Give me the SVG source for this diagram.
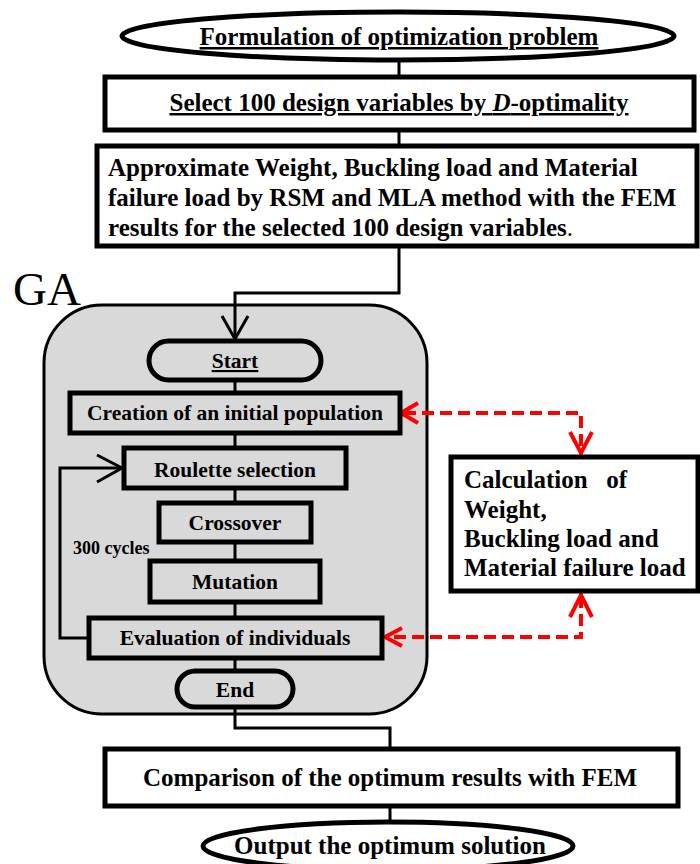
<svg xmlns="http://www.w3.org/2000/svg" width="700" height="864" viewBox="0 0 700 864">
<style>
text{font-family:"Liberation Serif","Times New Roman",serif;font-weight:bold;fill:#000}
.c{text-anchor:middle}
.u{text-decoration:underline}
.g{font-size:21.5px}
.box{fill:#fff;stroke:#000;stroke-width:5}
.gbox{fill:#d9d9d9;stroke:#000;stroke-width:5}
.ln{fill:none;stroke:#000;stroke-width:3}
.red{fill:none;stroke:#ff0000;stroke-width:4;stroke-dasharray:12 6}
.redh{fill:none;stroke:#ff0000;stroke-width:4}
</style>
<rect width="700" height="864" fill="#fff"/>
<g id="ga">
<rect x="44" y="305" width="383" height="409" rx="58" ry="58" fill="#d9d9d9" stroke="#000" stroke-width="3"/>
<text x="13" y="305" style="font-size:47px;font-weight:normal">GA</text>
</g>
<g id="connectors">
<path class="ln" d="M399 61V77M399 130V146M399 246V293H235V338"/>
<path class="ln" d="M222 316L235 339L248 316"/>
<path class="ln" d="M235 380V392M235 433V448M235 488V502M235 542V560M235 602V617M235 658V670M235 707V728H390V748M390 806V821"/>
<path class="ln" d="M88 638H60V468H121"/>
<path class="ln" d="M97 455L122 468L97 482"/>
<path class="red" d="M404 413H581V452"/>
<path class="redh" d="M418 403L401 413L418 423M570 432L581 453L592 432"/>
<path class="red" d="M581 596V637H387"/>
<path class="redh" d="M570 617L581 595L592 617M402 628L385 637L402 646"/>
</g>
<g id="formulation">
<ellipse class="box" cx="398" cy="36" rx="276" ry="24"/>
<text class="c u" x="399" y="45" font-size="25">Formulation of optimization problem</text>
</g>
<g id="select">
<rect class="box" x="105" y="77" width="589" height="53"/>
<text class="c u" x="399" y="111" font-size="25">Select 100 design variables by <tspan font-style="italic">D</tspan>-optimality</text>
</g>
<g id="approximate">
<rect class="box" x="97" y="146" width="600" height="100"/>
<text x="108" y="176" font-size="25">Approximate Weight, Buckling load and Material</text>
<text x="108" y="206" font-size="25">failure load by RSM and MLA method with the FEM</text>
<text x="108" y="236" font-size="25">results for the selected 100 design variables<tspan style="font-weight:normal">.</tspan></text>
</g>
<g id="start">
<rect class="gbox" x="149" y="341" width="172" height="39" rx="19.5"/>
<text class="c u g" x="235" y="368">Start</text>
</g>
<g id="creation">
<rect class="gbox" x="70" y="393" width="330" height="40"/>
<text class="c g" x="235" y="420">Creation of an initial population</text>
</g>
<g id="roulette">
<rect class="gbox" x="124" y="448" width="222" height="40"/>
<text class="c g" x="235" y="477">Roulette selection</text>
</g>
<g id="crossover">
<rect class="gbox" x="159" y="503" width="152" height="39"/>
<text class="c g" x="235" y="530">Crossover</text>
</g>
<g id="cycles">
<text x="73" y="554" font-size="18">300 cycles</text>
</g>
<g id="mutation">
<rect class="gbox" x="150" y="561" width="170" height="41"/>
<text class="c g" x="235" y="589">Mutation</text>
</g>
<g id="evaluation">
<rect class="gbox" x="89" y="618" width="293" height="40"/>
<text class="c g" x="235" y="645">Evaluation of individuals</text>
</g>
<g id="end">
<rect class="gbox" x="177" y="671" width="116" height="36" rx="18"/>
<text class="c g" x="235" y="697">End</text>
</g>
<g id="calculation">
<rect class="box" x="451" y="457" width="247" height="134"/>
<text x="464" y="488" font-size="25" xml:space="preserve">Calculation   of</text>
<text x="464" y="518" font-size="25">Weight,</text>
<text x="464" y="547" font-size="25">Buckling load and</text>
<text x="464" y="576" font-size="25">Material failure load</text>
</g>
<g id="comparison">
<rect class="box" x="105" y="749" width="573" height="57"/>
<text class="c" x="390" y="786" font-size="25">Comparison of the optimum results with FEM</text>
</g>
<g id="output">
<ellipse class="box" cx="388" cy="846" rx="185" ry="24"/>
<text class="c" x="390" y="854" font-size="25">Output the optimum solution</text>
</g>
</svg>
